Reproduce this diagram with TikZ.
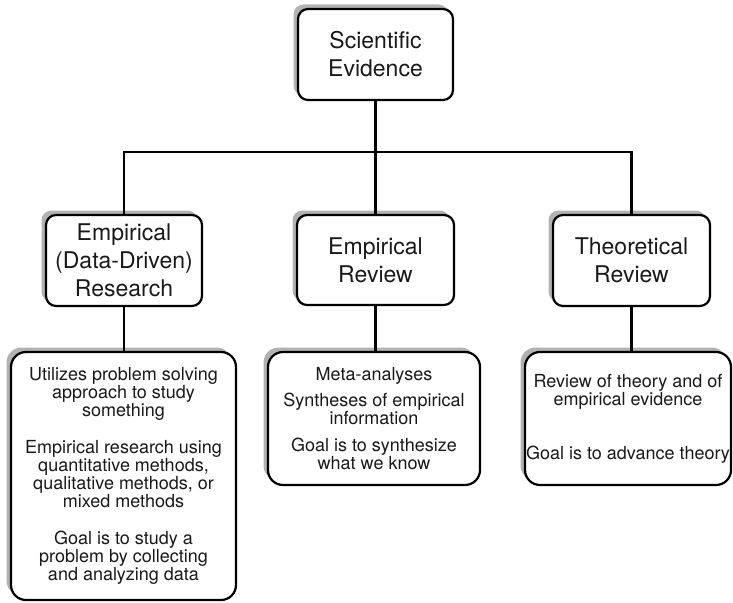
\documentclass[tikz,border=0pt]{standalone}
\usepackage{fontspec}
\setmainfont{TeX Gyre Heros}
\usetikzlibrary{shadows}

\tikzset{
  box/.style={draw, fill=white, line width=2.2pt, rounded corners=10pt, align=center,
    inner sep=0pt, text=black!90, font=\fontsize{23}{28}\selectfont,
    drop shadow={shadow xshift=-4.5pt, shadow yshift=4.5pt, opacity=1, fill=black!30}},
  detail/.style={box, rounded corners=15pt, font=\fontsize{18}{16.5}\selectfont},
  link/.style={line width=2.2pt}
}

\begin{document}
\begin{tikzpicture}[x=1pt, y=-1pt]
  \useasboundingbox (0,0) rectangle (733,602);

  % Top
  \node[box, minimum width=155pt, minimum height=91pt] (ev) at (375.5,54.5) {Scientific\\Evidence};

  % Three kinds
  \node[box, minimum width=156pt, minimum height=91pt] (emp) at (124,260.5) {Empirical\\(Data-Driven)\\Research};
  \node[box, minimum width=157pt, minimum height=90pt] (rev) at (375.5,260) {Empirical\\Review};
  \node[box, minimum width=157pt, minimum height=91pt] (theo) at (631.5,260.5) {Theoretical\\Review};

  % Details
  \node[detail, minimum width=225pt, minimum height=248pt] (empdet) at (123.5,476)
    {Utilizes problem solving\\approach to study\\something\\[19pt]
     Empirical research using\\quantitative methods,\\qualitative methods, or\\mixed methods\\[20pt]
     Goal is to study a\\problem by collecting\\and analyzing data};
  \node[detail, minimum width=212pt, minimum height=133pt] (revdet) at (374,418.5)
    {Meta-analyses\\[7.5pt]
     Syntheses of empirical\\information\\[10.5pt]
     Goal is to synthesize\\what we know};
  \node[detail, minimum width=206pt, minimum height=133pt] (theodet) at (628,418.5)
    {Review of theory and of\\empirical evidence\\[35.5pt]
     Goal is to advance theory};

  % Connectors
  \coordinate (bus) at (0,152);
  \draw[link] (ev.south) -- (ev.south |- bus);
  \draw[link] (emp.north) -- (emp.north |- bus) -| (theo.north);
  \draw[link] (rev.north) -- (rev.north |- bus);
  \draw[link] (emp.south) -- (emp.south |- empdet.north);
  \draw[link] (rev.south) -- (rev.south |- revdet.north);
  \draw[link] (theo.south) -- (theo.south |- theodet.north);
\end{tikzpicture}
\end{document}
